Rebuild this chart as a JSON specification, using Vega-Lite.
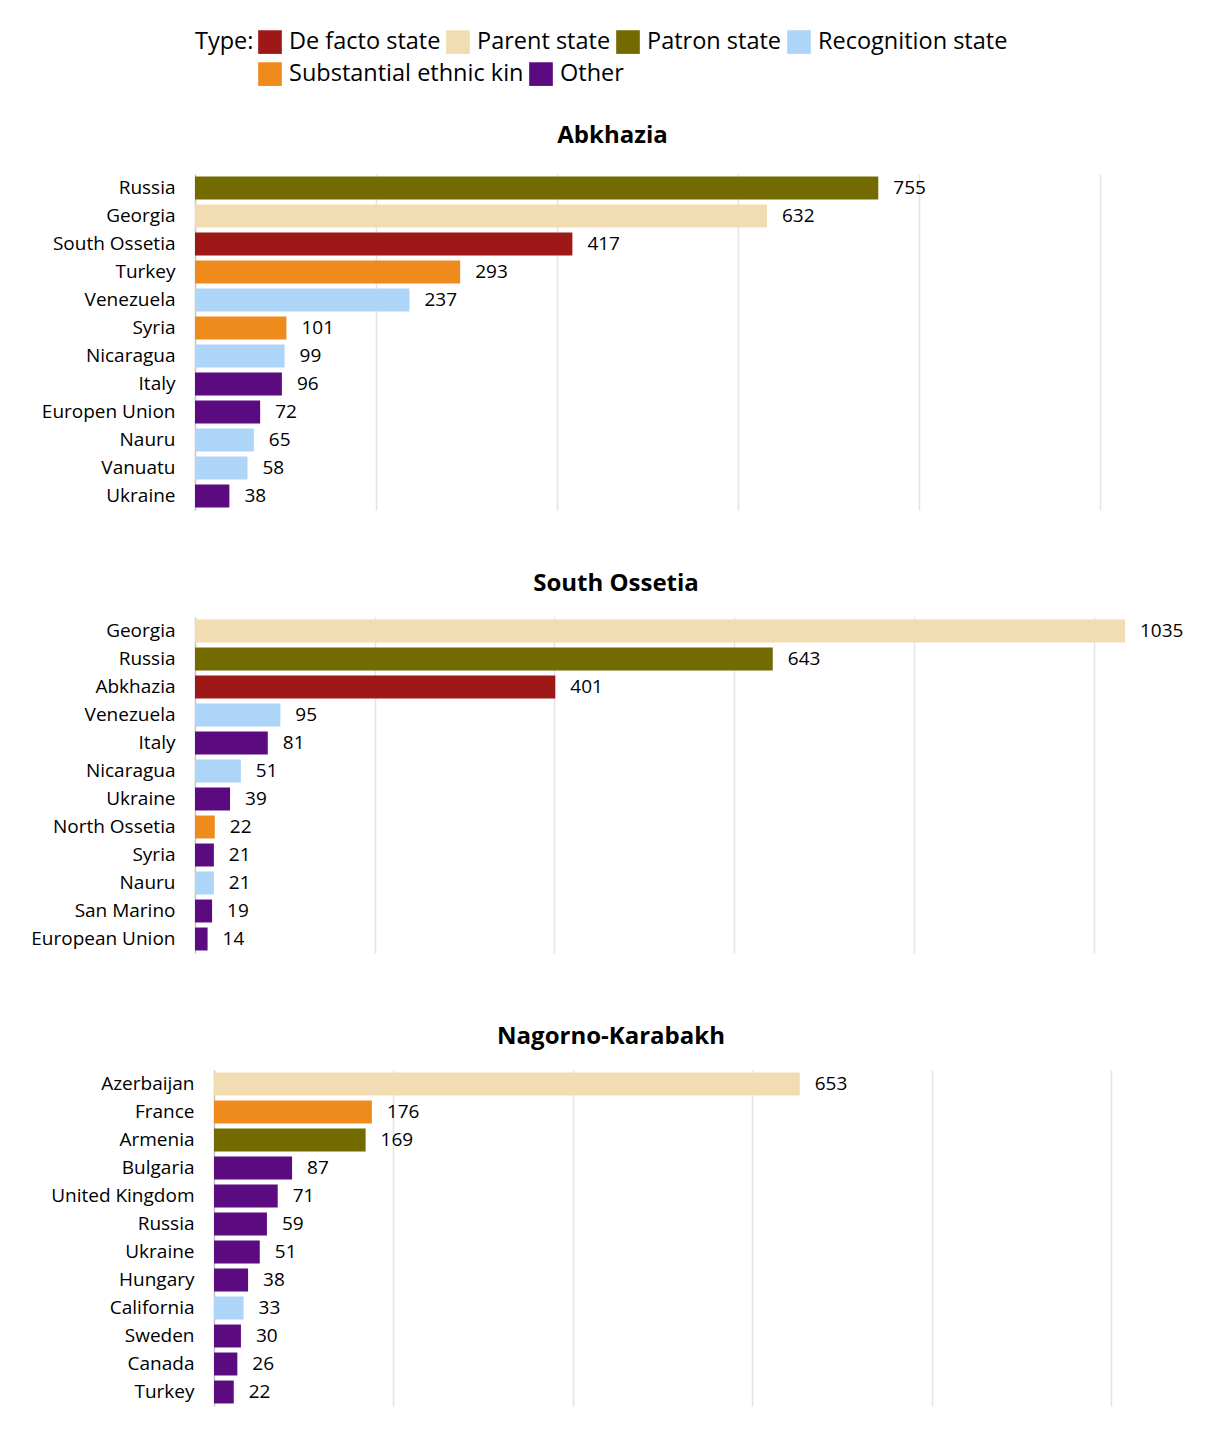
{
  "$schema": "https://vega.github.io/schema/vega-lite/v6.json",
  "background": "white",
  "padding": {"left": 30, "top": 30, "right": 5, "bottom": 5},
  "config": {
    "font": "Open Sans",
    "view": {"stroke": null},
    "concat": {"spacing": 62},
    "legend": {
      "titleFontSize": 23.5, "titleFontWeight": "normal", "titleColor": "#000", "titlePadding": 4,
      "titleOrient": "left", "titleAnchor": "start", "titleBaseline": "top",
      "labelFontSize": 23.5, "labelColor": "#000", "labelLimit": 400, "labelOffset": 7,
      "symbolType": "square", "symbolSize": 560, "symbolStrokeWidth": 0, "symbolOpacity": 1,
      "columnPadding": 5, "rowPadding": 8
    }
  },
  "data": {
    "values": [
      {"region": "Abkhazia", "country": "Russia", "value": 755, "type": "Patron state"},
      {"region": "Abkhazia", "country": "Georgia", "value": 632, "type": "Parent state"},
      {"region": "Abkhazia", "country": "South Ossetia", "value": 417, "type": "De facto state"},
      {"region": "Abkhazia", "country": "Turkey", "value": 293, "type": "Substantial ethnic kin"},
      {"region": "Abkhazia", "country": "Venezuela", "value": 237, "type": "Recognition state"},
      {"region": "Abkhazia", "country": "Syria", "value": 101, "type": "Substantial ethnic kin"},
      {"region": "Abkhazia", "country": "Nicaragua", "value": 99, "type": "Recognition state"},
      {"region": "Abkhazia", "country": "Italy", "value": 96, "type": "Other"},
      {"region": "Abkhazia", "country": "Europen Union", "value": 72, "type": "Other"},
      {"region": "Abkhazia", "country": "Nauru", "value": 65, "type": "Recognition state"},
      {"region": "Abkhazia", "country": "Vanuatu", "value": 58, "type": "Recognition state"},
      {"region": "Abkhazia", "country": "Ukraine", "value": 38, "type": "Other"},
      {"region": "South Ossetia", "country": "Georgia", "value": 1035, "type": "Parent state"},
      {"region": "South Ossetia", "country": "Russia", "value": 643, "type": "Patron state"},
      {"region": "South Ossetia", "country": "Abkhazia", "value": 401, "type": "De facto state"},
      {"region": "South Ossetia", "country": "Venezuela", "value": 95, "type": "Recognition state"},
      {"region": "South Ossetia", "country": "Italy", "value": 81, "type": "Other"},
      {"region": "South Ossetia", "country": "Nicaragua", "value": 51, "type": "Recognition state"},
      {"region": "South Ossetia", "country": "Ukraine", "value": 39, "type": "Other"},
      {"region": "South Ossetia", "country": "North Ossetia", "value": 22, "type": "Substantial ethnic kin"},
      {"region": "South Ossetia", "country": "Syria", "value": 21, "type": "Other"},
      {"region": "South Ossetia", "country": "Nauru", "value": 21, "type": "Recognition state"},
      {"region": "South Ossetia", "country": "San Marino", "value": 19, "type": "Other"},
      {"region": "South Ossetia", "country": "European Union", "value": 14, "type": "Other"},
      {"region": "Nagorno-Karabakh", "country": "Azerbaijan", "value": 653, "type": "Parent state"},
      {"region": "Nagorno-Karabakh", "country": "France", "value": 176, "type": "Substantial ethnic kin"},
      {"region": "Nagorno-Karabakh", "country": "Armenia", "value": 169, "type": "Patron state"},
      {"region": "Nagorno-Karabakh", "country": "Bulgaria", "value": 87, "type": "Other"},
      {"region": "Nagorno-Karabakh", "country": "United Kingdom", "value": 71, "type": "Other"},
      {"region": "Nagorno-Karabakh", "country": "Russia", "value": 59, "type": "Other"},
      {"region": "Nagorno-Karabakh", "country": "Ukraine", "value": 51, "type": "Other"},
      {"region": "Nagorno-Karabakh", "country": "Hungary", "value": 38, "type": "Other"},
      {"region": "Nagorno-Karabakh", "country": "California", "value": 33, "type": "Recognition state"},
      {"region": "Nagorno-Karabakh", "country": "Sweden", "value": 30, "type": "Other"},
      {"region": "Nagorno-Karabakh", "country": "Canada", "value": 26, "type": "Other"},
      {"region": "Nagorno-Karabakh", "country": "Turkey", "value": 22, "type": "Other"}
    ]
  },
  "vconcat": [
    {
      "width": 905,
      "height": 336,
      "title": {"text": "Abkhazia", "fontSize": 24, "fontWeight": "bold", "color": "#000", "offset": 26, "dx": -35},
      "transform": [{"filter": "datum.region === 'Abkhazia'"}],
      "encoding": {
        "y": {
          "field": "country", "type": "nominal", "title": null,
          "sort": ["Russia", "Georgia", "South Ossetia", "Turkey", "Venezuela", "Syria", "Nicaragua", "Italy", "Europen Union", "Nauru", "Vanuatu", "Ukraine"],
          "scale": {"paddingInner": 0.18, "paddingOuter": 0.09},
          "axis": {"domain": false, "ticks": false, "labelFontSize": 19, "labelPadding": 20, "labelColor": "#000", "labelLimit": 300}
        },
        "x": {
          "field": "value", "type": "quantitative", "title": null,
          "scale": {"domain": [0, 1000], "nice": false},
          "axis": {"grid": true, "labels": false, "ticks": false, "domain": false, "values": [0, 200, 400, 600, 800, 1000], "gridWidth": 1.5,
            "gridColor": {"condition": {"test": "datum.value === 0", "value": "#c4c4c4"}, "value": "#e4e4e4"}}
        }
      },
      "layer": [
        {
          "mark": {"type": "bar"},
          "encoding": {
            "fill": {
              "field": "type", "type": "nominal",
              "scale": {"domain": ["De facto state", "Parent state", "Patron state", "Recognition state", "Substantial ethnic kin", "Other"],
                        "range": ["#9e1818", "#f2dcb2", "#736a00", "#add5f8", "#ef8a1c", "#5b0a80"]},
              "legend": {"title": "Type:", "orient": "none", "legendX": 0, "legendY": -144, "direction": "horizontal", "columns": 4,
                "values": ["De facto state", "Parent state", "Patron state", "Recognition state"]}
            }
          }
        },
        {
          "transform": [{"filter": "datum.type === 'Substantial ethnic kin' || datum.type === 'Other'"}],
          "mark": {"type": "bar", "opacity": 0},
          "encoding": {
            "color": {
              "field": "type", "type": "nominal",
              "scale": {"domain": ["Substantial ethnic kin", "Other"], "range": ["#ef8a1c", "#5b0a80"]},
              "legend": {"title": null, "orient": "none", "legendX": 63, "legendY": -112, "direction": "horizontal", "columns": 2, "symbolOpacity": 1}
            }
          }
        },
        {
          "mark": {"type": "text", "align": "left", "baseline": "middle", "dx": 15, "fontSize": 19, "color": "#000"},
          "encoding": {"text": {"field": "value", "type": "quantitative"}}
        }
      ]
    },
    {
      "width": 930,
      "height": 336,
      "title": {"text": "South Ossetia", "fontSize": 24, "fontWeight": "bold", "color": "#000", "offset": 21, "dx": -44},
      "transform": [{"filter": "datum.region === 'South Ossetia'"}],
      "encoding": {
        "y": {
          "field": "country", "type": "nominal", "title": null,
          "sort": ["Georgia", "Russia", "Abkhazia", "Venezuela", "Italy", "Nicaragua", "Ukraine", "North Ossetia", "Syria", "Nauru", "San Marino", "European Union"],
          "scale": {"paddingInner": 0.18, "paddingOuter": 0.09},
          "axis": {"domain": false, "ticks": false, "labelFontSize": 19, "labelPadding": 20, "labelColor": "#000", "labelLimit": 300}
        },
        "x": {
          "field": "value", "type": "quantitative", "title": null,
          "scale": {"domain": [0, 1035], "nice": false},
          "axis": {"grid": true, "labels": false, "ticks": false, "domain": false, "values": [0, 200, 400, 600, 800, 1000], "gridWidth": 1.5, "minExtent": 10,
            "gridColor": {"condition": {"test": "datum.value === 0", "value": "#c4c4c4"}, "value": "#e4e4e4"}}
        }
      },
      "layer": [
        {
          "mark": {"type": "bar"},
          "encoding": {
            "fill": {
              "field": "type", "type": "nominal",
              "scale": {"domain": ["De facto state", "Parent state", "Patron state", "Recognition state", "Substantial ethnic kin", "Other"],
                        "range": ["#9e1818", "#f2dcb2", "#736a00", "#add5f8", "#ef8a1c", "#5b0a80"]},
              "legend": {"title": "Type:", "orient": "none", "legendX": 0, "legendY": -144, "direction": "horizontal", "columns": 4,
                "values": ["De facto state", "Parent state", "Patron state", "Recognition state"]}
            }
          }
        },
        {
          "mark": {"type": "text", "align": "left", "baseline": "middle", "dx": 15, "fontSize": 19, "color": "#000"},
          "encoding": {"text": {"field": "value", "type": "quantitative"}}
        }
      ]
    },
    {
      "width": 916,
      "height": 336,
      "title": {"text": "Nagorno-Karabakh", "fontSize": 24, "fontWeight": "bold", "color": "#000", "offset": 21, "dx": -42},
      "transform": [{"filter": "datum.region === 'Nagorno-Karabakh'"}],
      "encoding": {
        "y": {
          "field": "country", "type": "nominal", "title": null,
          "sort": ["Azerbaijan", "France", "Armenia", "Bulgaria", "United Kingdom", "Russia", "Ukraine", "Hungary", "California", "Sweden", "Canada", "Turkey"],
          "scale": {"paddingInner": 0.18, "paddingOuter": 0.09},
          "axis": {"domain": false, "ticks": false, "labelFontSize": 19, "labelPadding": 20, "labelColor": "#000", "labelLimit": 300, "offset": -19}
        },
        "x": {
          "field": "value", "type": "quantitative", "title": null,
          "scale": {"domain": [-21.2, 1000], "nice": false, "zero": false},
          "axis": {"grid": true, "labels": false, "ticks": false, "domain": false, "values": [0, 200, 400, 600, 800, 1000], "gridWidth": 1.5,
            "gridColor": {"condition": {"test": "datum.value === 0", "value": "#c4c4c4"}, "value": "#e4e4e4"}}
        }
      },
      "layer": [
        {
          "mark": {"type": "bar"},
          "encoding": {
            "x2": {"datum": 0},
            "fill": {
              "field": "type", "type": "nominal",
              "scale": {"domain": ["De facto state", "Parent state", "Patron state", "Recognition state", "Substantial ethnic kin", "Other"],
                        "range": ["#9e1818", "#f2dcb2", "#736a00", "#add5f8", "#ef8a1c", "#5b0a80"]},
              "legend": {"title": "Type:", "orient": "none", "legendX": 0, "legendY": -144, "direction": "horizontal", "columns": 4,
                "values": ["De facto state", "Parent state", "Patron state", "Recognition state"]}
            }
          }
        },
        {
          "mark": {"type": "text", "align": "left", "baseline": "middle", "dx": 15, "fontSize": 19, "color": "#000"},
          "encoding": {"text": {"field": "value", "type": "quantitative"}}
        }
      ]
    }
  ],
  "resolve": {"scale": {"x": "independent", "y": "independent", "fill": "shared", "color": "shared"}}
}
